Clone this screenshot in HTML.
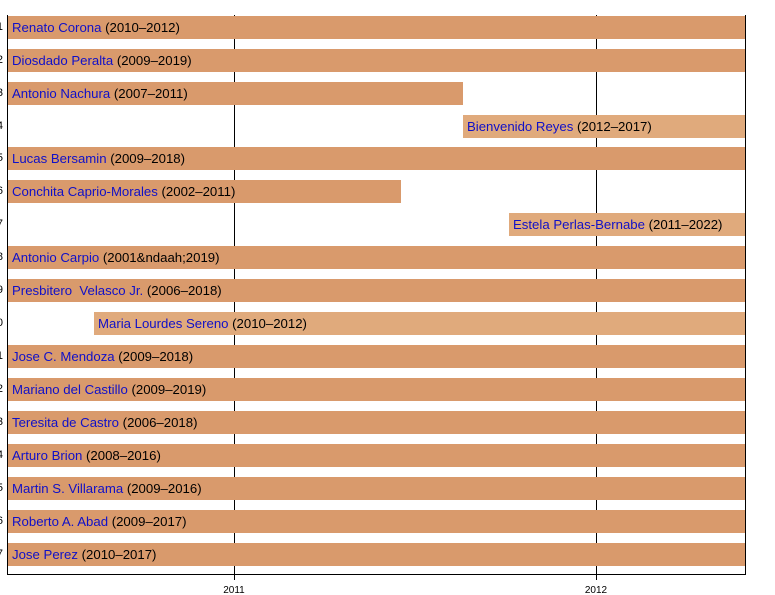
<!DOCTYPE html>
<html><head><style>
html,body{margin:0;padding:0;background:#fff;width:775px;height:595px;overflow:hidden;position:relative;font-family:"Liberation Sans",sans-serif}
.bar{position:absolute;height:23px;background:#D99A6C;font-size:13.2px;line-height:23px;white-space:nowrap;overflow:hidden;box-sizing:border-box;padding-left:4px}
.l{background:#E0AA7C}
.bar b{font-weight:normal;color:#1010C8}
.n{position:absolute;right:772px;font-size:11px;width:30px;text-align:right}
.g{position:absolute;width:1px;background:#000}
.t{position:absolute;font-size:10px;top:585px;width:40px;text-align:center}
</style></head><body>
<div class="g" style="left:234px;top:15px;height:565px"></div>
<div class="g" style="left:596px;top:15px;height:565px"></div>
<div class="g" style="left:7px;top:15px;height:560px"></div>
<div class="g" style="left:745px;top:15px;height:560px"></div>
<div style="position:absolute;left:7px;top:574px;width:739px;height:1px;background:#000"></div>

<div class="bar" style="left:8px;width:737px;top:16px"><b>Renato Corona</b> (2010–2012)</div>
<div class="bar" style="left:8px;width:737px;top:49px"><b>Diosdado Peralta</b> (2009–2019)</div>
<div class="bar" style="left:8px;width:455px;top:82px"><b>Antonio Nachura</b> (2007–2011)</div>
<div class="bar l" style="left:463px;width:282px;top:115px"><b>Bienvenido Reyes</b> (2012–2017)</div>
<div class="bar" style="left:8px;width:737px;top:147px"><b>Lucas Bersamin</b> (2009–2018)</div>
<div class="bar" style="left:8px;width:393px;top:180px"><b>Conchita Caprio-Morales</b> (2002–2011)</div>
<div class="bar l" style="left:509px;width:236px;top:213px"><b>Estela Perlas-Bernabe</b> (2011–2022)</div>
<div class="bar" style="left:8px;width:737px;top:246px"><b>Antonio Carpio</b> (2001&amp;ndaah;2019)</div>
<div class="bar" style="left:8px;width:737px;top:279px"><b>Presbitero &nbsp;Velasco Jr.</b> (2006–2018)</div>
<div class="bar l" style="left:94px;width:651px;top:312px"><b>Maria Lourdes Sereno</b> (2010–2012)</div>
<div class="bar" style="left:8px;width:737px;top:345px"><b>Jose C. Mendoza</b> (2009–2018)</div>
<div class="bar" style="left:8px;width:737px;top:378px"><b>Mariano del Castillo</b> (2009–2019)</div>
<div class="bar" style="left:8px;width:737px;top:411px"><b>Teresita de Castro</b> (2006–2018)</div>
<div class="bar" style="left:8px;width:737px;top:444px"><b>Arturo Brion</b> (2008–2016)</div>
<div class="bar" style="left:8px;width:737px;top:477px"><b>Martin S. Villarama</b> (2009–2016)</div>
<div class="bar" style="left:8px;width:737px;top:510px"><b>Roberto A. Abad</b> (2009–2017)</div>
<div class="bar" style="left:8px;width:737px;top:543px"><b>Jose Perez</b> (2010–2017)</div>

<div class="n" style="top:21px">1</div><div class="n" style="top:54px">2</div><div class="n" style="top:87px">3</div>
<div class="n" style="top:120px">4</div><div class="n" style="top:152px">5</div><div class="n" style="top:185px">6</div>
<div class="n" style="top:218px">7</div><div class="n" style="top:251px">8</div><div class="n" style="top:284px">9</div>
<div class="n" style="top:317px">10</div><div class="n" style="top:350px">11</div><div class="n" style="top:383px">12</div>
<div class="n" style="top:416px">13</div><div class="n" style="top:449px">14</div><div class="n" style="top:482px">15</div>
<div class="n" style="top:515px">16</div><div class="n" style="top:548px">17</div>

<div class="t" style="left:214px">2011</div>
<div class="t" style="left:576px">2012</div>
</body></html>
